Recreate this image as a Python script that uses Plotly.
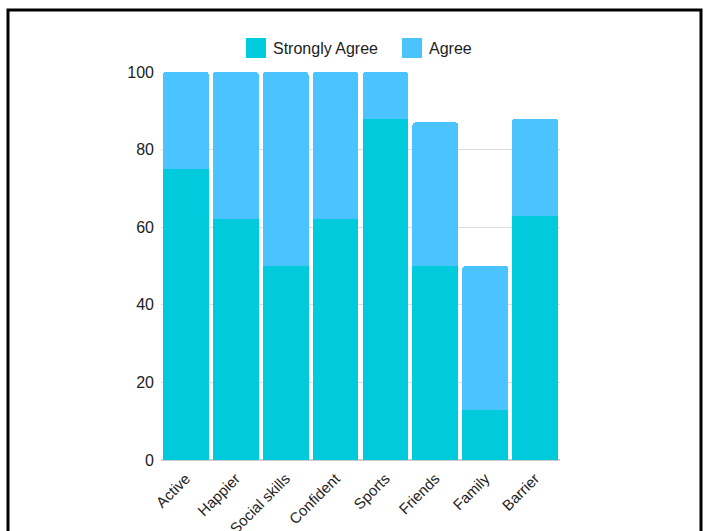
import plotly.graph_objects as go

categories = ["Active", "Happier", "Social skills", "Confident", "Sports", "Friends", "Family", "Barrier"]
strongly_agree = [75, 62, 50, 62, 88, 50, 13, 63]
agree = [25, 38, 50, 38, 12, 37, 37, 25]
y_ticks = [0, 20, 40, 60, 80, 100]
series_names = ["Strongly Agree", "Agree"]
series_colors = ["#00CBDD", "#4BC3FF"]

W, H = 705, 531
L, R, T, B = 161, 145, 72, 71
pw, ph = W - L - R, H - T - B

fig = go.Figure()
for name, vals, col in zip(series_names, [strongly_agree, agree], series_colors):
    fig.add_trace(go.Bar(x=categories, y=vals, name=name, showlegend=False,
                         marker=dict(color=col, line=dict(width=0))))

def px_x(p):
    return (p - L) / pw

def px_y(p):
    return (H - B - p) / ph

# legend drawn as large square swatches with labels beside them
legend_left = [246, 402]
shapes = []
annotations = []
for name, col, lx in zip(series_names, series_colors, legend_left):
    shapes.append(dict(type="rect", xref="paper", yref="paper",
                       x0=px_x(lx), x1=px_x(lx + 20), y0=px_y(58), y1=px_y(38),
                       fillcolor=col, line=dict(width=0)))
    annotations.append(dict(text=name, xref="paper", yref="paper", x=px_x(lx + 25),
                            y=px_y(48), xanchor="left", yanchor="middle", showarrow=False,
                            font=dict(size=16, color="#222")))

# outer frame
shapes.append(dict(type="rect", xref="paper", yref="paper",
                   x0=px_x(8), x1=px_x(701), y0=px_y(540), y1=px_y(10),
                   line=dict(color="black", width=3), fillcolor="rgba(0,0,0,0)", layer="above"))

fig.update_layout(
    width=W, height=H,
    barmode="stack", bargap=0.085, barcornerradius=3,
    margin=dict(l=L, r=R, t=T, b=B),
    paper_bgcolor="white", plot_bgcolor="white",
    font=dict(family="Liberation Sans, Arial, sans-serif", size=16, color="#222"),
    showlegend=False,
    xaxis=dict(tickangle=-45, showgrid=False, showline=False, ticks="", automargin=False,
               tickfont=dict(size=15), ticklabelstandoff=6),
    yaxis=dict(range=[0, 100], tickvals=y_ticks, showgrid=True, gridcolor="#DDDDDD",
               gridwidth=1, zeroline=True, zerolinecolor="#CCCCCC", ticks="", automargin=False,
               tickfont=dict(size=16), ticklabelstandoff=6),
    shapes=shapes,
    annotations=annotations,
)

fig.write_html("out.html")
